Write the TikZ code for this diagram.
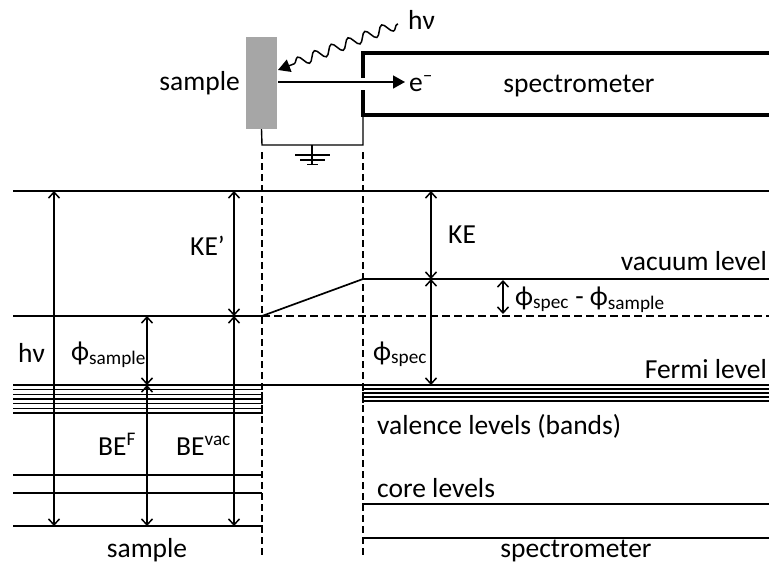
\documentclass[tikz,border=0pt]{standalone}
\usepackage{fontspec}
\setmainfont{Carlito}
\usetikzlibrary{arrows.meta,decorations.pathmorphing}
\definecolor{samplegray}{RGB}{166,166,166}
\begin{document}
\begin{tikzpicture}[x=1pt,y=-1pt,
  lvl/.style={line width=1.7pt},
  thinlvl/.style={line width=1.4pt},
  thickbox/.style={line width=3.4pt},
  vdash/.style={line width=1.5pt, dash pattern=on 7pt off 4pt},
  hdash/.style={line width=1.5pt, dash pattern=on 8pt off 4pt},
  dbl/.style={line width=1.5pt, {Straight Barb[length=6pt,width=11pt]}-{Straight Barb[length=6pt,width=11pt]}},
  tri/.style={line width=1.5pt, -{Triangle[length=12pt,width=13pt]}},
  lbl/.style={font=\fontsize{27.5}{32}\selectfont, inner sep=0pt}
]
\useasboundingbox (0,0) rectangle (769,566);

% ---------- top apparatus ----------
\node[fill=samplegray, minimum width=31pt, minimum height=92pt, inner sep=0pt] (samp) at (261.5,83) {};
\node[lbl, anchor=base east] (samplelbl) at (240,90) {sample};
\node[lbl, anchor=base west] (elec) at (409,91) {e\textsuperscript{–}};
\node[lbl, anchor=base west] (hvtop) at (408,29) {hν};
\node[lbl, anchor=base] (speclbl) at (579,92) {spectrometer};

\coordinate (wavestart) at (398,24);
\coordinate (wavetip) at (278,70);
\draw[tri, decorate, decoration={snake, amplitude=5pt, segment length=18pt, pre length=1pt, post length=12pt}] (wavestart) -- (wavetip);
\draw[tri, shorten >=4pt] (278,82) -- (elec.west |- 0,82);

\draw[thickbox] (769,53) -- (363,53) -- (363,78);
\draw[thickbox] (363,90) -- (363,115) -- (769,115);
\draw[thinlvl] (363,115) -- (363,145) -- (262,145) -- (samp.south);
% ground
\coordinate (gnd) at (312,145);
\draw[thinlvl] (gnd) -- (312,165);
\draw[thinlvl] (295,155) -- (330,155);
\draw[thinlvl] (300,160) -- (325,160);
\draw[thinlvl] (307,164.5) -- (318,164.5);

% ---------- dashed verticals ----------
\draw[vdash] (262,152) -- (262,555);
\draw[vdash] (363,152) -- (363,555);

% ---------- energy levels ----------
\draw[lvl] (13,191) -- (769,191);
\draw[lvl] (13,316) -- (262,316) -- (363,279) -- (769,279);
\draw[hdash] (262,316) -- (769,316);
\draw[lvl] (13,385) -- (769,385);
\foreach \yy in {389.7,394.3,399,403.7,408.3,413}
  \draw[thinlvl] (13,\yy) -- (262,\yy) -- (262,\yy-2.3);
\foreach \yy in {389,393,397,401}
  \draw[thinlvl] (363,\yy+2) -- (363,\yy) -- (769,\yy);
\draw[lvl] (13,475) -- (262,475);
\draw[lvl] (13,493) -- (262,493);
\draw[lvl] (13,526) -- (262,526) -- (262,530);
\draw[lvl] (363,507) -- (363,504) -- (769,504);
\draw[lvl] (363,541) -- (363,538) -- (769,538);

% ---------- arrows ----------
\draw[dbl] (54,191) -- (54,526);
\draw[dbl] (234,191) -- (234,316);
\draw[dbl] (234,316) -- (234,526);
\draw[dbl] (147,316) -- (147,385);
\draw[dbl] (147,385) -- (147,526);
\draw[dbl] (431,191) -- (431,279);
\draw[dbl] (431,279) -- (431,385);
\draw[dbl] (503,280) -- (503,314);

% ---------- labels ----------
\node[lbl, anchor=base west] (hvl) at (18,362) {hν};
\node[lbl, anchor=base west] (phisam) at (71,360) {ϕ\textsubscript{sample}};
\node[lbl, anchor=base west] (kep) at (190,255) {KE’};
\node[lbl, anchor=base west] (bef) at (98,455) {BE\textsuperscript{F}};
\node[lbl, anchor=base west] (bevac) at (176,455) {BE\textsuperscript{vac}};
\node[lbl, anchor=base west] (ke) at (448,243) {KE};
\node[lbl, anchor=base east] (vac) at (767,270) {vacuum level};
\node[lbl, anchor=base west] (diff) at (515,305) {ϕ\textsubscript{spec} - ϕ\textsubscript{sample}};
\node[lbl, anchor=base west] (phispec) at (373,360) {ϕ\textsubscript{spec}};
\node[lbl, anchor=base east] (fermi) at (767,378) {Fermi level};
\node[lbl, anchor=base west] (val) at (377,434) {valence levels (bands)};
\node[lbl, anchor=base west] (core) at (377,497) {core levels};
\node[lbl, anchor=base] (sampbot) at (147,557) {sample};
\node[lbl, anchor=base] (specbot) at (576,557) {spectrometer};
\end{tikzpicture}
\end{document}
